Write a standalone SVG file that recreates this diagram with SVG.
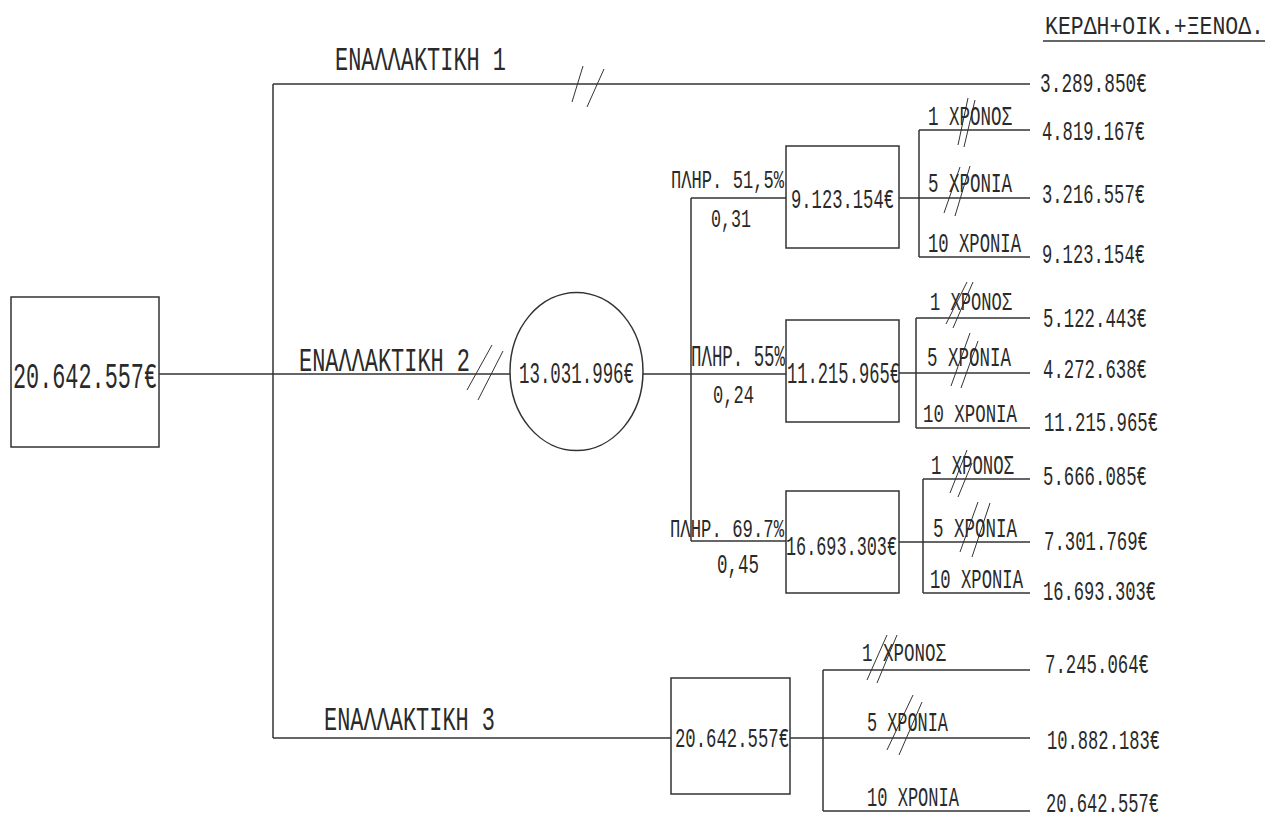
<svg xmlns="http://www.w3.org/2000/svg" width="1281" height="814" viewBox="0 0 1281 814">
<style>
text{font-family:"Liberation Mono","DejaVu Sans Mono",monospace;fill:#2a2a2a}
.n{fill:none;stroke:#333;stroke-width:1.5}
.c line{stroke:#333;stroke-width:1.5}
.h line{stroke:#333;stroke-width:1}
</style>
<rect width="1281" height="814" fill="#fff"/>
<g id="connectors" class="c">
<line x1="159" y1="374" x2="510" y2="374"/>
<line x1="273" y1="84" x2="273" y2="738"/>
<line x1="273" y1="84" x2="1030" y2="84"/>
<line x1="273" y1="738" x2="671" y2="738"/>
<line x1="643" y1="374" x2="786" y2="374"/>
<line x1="691" y1="198" x2="691" y2="541"/>
<line x1="691" y1="198" x2="786" y2="198"/>
<line x1="691" y1="541" x2="786" y2="541"/>
<line x1="899" y1="198" x2="1030" y2="198"/>
<line x1="919" y1="130" x2="919" y2="257"/>
<line x1="919" y1="130" x2="1030" y2="130"/>
<line x1="919" y1="257" x2="1030" y2="257"/>
<line x1="899" y1="373" x2="1030" y2="373"/>
<line x1="916" y1="318" x2="916" y2="428"/>
<line x1="916" y1="318" x2="1030" y2="318"/>
<line x1="916" y1="428" x2="1030" y2="428"/>
<line x1="899" y1="542" x2="1030" y2="542"/>
<line x1="923" y1="479" x2="923" y2="593"/>
<line x1="923" y1="479" x2="1030" y2="479"/>
<line x1="923" y1="593" x2="1030" y2="593"/>
<line x1="790" y1="738" x2="1030" y2="738"/>
<line x1="823" y1="670" x2="823" y2="811"/>
<line x1="823" y1="670" x2="1030" y2="670"/>
<line x1="823" y1="811" x2="1030" y2="811"/>
</g>
<g id="hashmarks" class="h">
<line x1="583" y1="66" x2="572" y2="102"/><line x1="604" y1="69" x2="587" y2="107"/>
<line x1="492" y1="345" x2="467" y2="390"/><line x1="503" y1="351" x2="478" y2="400"/>
<line x1="968" y1="98" x2="958" y2="145"/><line x1="975" y1="100" x2="964" y2="147"/>
<line x1="960" y1="167" x2="944" y2="213"/><line x1="970" y1="166" x2="955" y2="216"/>
<line x1="967" y1="282" x2="946" y2="324"/><line x1="973" y1="282" x2="953" y2="328"/>
<line x1="970" y1="333" x2="951" y2="386"/><line x1="978" y1="341" x2="961" y2="388"/>
<line x1="967" y1="450" x2="950" y2="493"/><line x1="972" y1="463" x2="958" y2="497"/>
<line x1="978" y1="502" x2="960" y2="552"/><line x1="990" y1="503" x2="972" y2="557"/>
<line x1="887" y1="635" x2="867" y2="680"/><line x1="897" y1="635" x2="877" y2="683"/>
<line x1="913" y1="695" x2="887" y2="750"/><line x1="922" y1="702" x2="899" y2="755"/>
</g>
<g id="header">
<text x="1045" y="34" font-size="25" textLength="219" lengthAdjust="spacingAndGlyphs">ΚΕΡΔΗ+ΟΙΚ.+ΞΕΝΟΔ.</text>
<line x1="1043" y1="41" x2="1265" y2="41" stroke="#333" stroke-width="1.5"/>
</g>
<g id="root">
<rect class="n" x="11" y="297" width="148" height="150"/>
<text x="13" y="388" font-size="37" textLength="144" lengthAdjust="spacingAndGlyphs">20.642.557€</text>
</g>
<g id="alt-labels">
<text x="335" y="70" font-size="33" textLength="171" lengthAdjust="spacingAndGlyphs">ΕΝΑΛΛΑΚΤΙΚΗ 1</text>
<text x="299" y="371" font-size="34" textLength="171" lengthAdjust="spacingAndGlyphs">ΕΝΑΛΛΑΚΤΙΚΗ 2</text>
<text x="324" y="730" font-size="33" textLength="171" lengthAdjust="spacingAndGlyphs">ΕΝΑΛΛΑΚΤΙΚΗ 3</text>
</g>
<g id="chance">
<ellipse class="n" cx="576.5" cy="371.5" rx="66.5" ry="79"/>
<text x="519" y="383" font-size="30" textLength="115" lengthAdjust="spacingAndGlyphs">13.031.996€</text>
</g>
<g id="prob-labels">
<text x="671" y="188" font-size="26" textLength="113" lengthAdjust="spacingAndGlyphs">ΠΛΗΡ. 51,5%</text>
<text x="711" y="227" font-size="25" textLength="40" lengthAdjust="spacingAndGlyphs">0,31</text>
<text x="691" y="366" font-size="29" textLength="94" lengthAdjust="spacingAndGlyphs">ΠΛΗΡ. 55%</text>
<text x="713" y="403" font-size="26" textLength="41" lengthAdjust="spacingAndGlyphs">0,24</text>
<text x="670" y="537" font-size="25" textLength="114" lengthAdjust="spacingAndGlyphs">ΠΛΗΡ. 69.7%</text>
<text x="717" y="573" font-size="27" textLength="42" lengthAdjust="spacingAndGlyphs">0,45</text>
</g>
<g id="box1">
<rect class="n" x="786" y="146" width="113" height="102"/>
<text x="791" y="208" font-size="27" textLength="103" lengthAdjust="spacingAndGlyphs">9.123.154€</text>
</g>
<g id="box2">
<rect class="n" x="786" y="320" width="113" height="102"/>
<text x="787" y="383" font-size="29" textLength="113" lengthAdjust="spacingAndGlyphs">11.215.965€</text>
</g>
<g id="box3">
<rect class="n" x="786" y="491" width="113" height="102"/>
<text x="786" y="555" font-size="27" textLength="111" lengthAdjust="spacingAndGlyphs">16.693.303€</text>
</g>
<g id="box4">
<rect class="n" x="671" y="678" width="119" height="116"/>
<text x="675" y="747" font-size="28" textLength="114" lengthAdjust="spacingAndGlyphs">20.642.557€</text>
</g>
<g id="year-labels">
<text x="928" y="125" font-size="27" textLength="84" lengthAdjust="spacingAndGlyphs">1 ΧΡΟΝΟΣ</text>
<text x="928" y="192" font-size="27" textLength="84" lengthAdjust="spacingAndGlyphs">5 ΧΡΟΝΙΑ</text>
<text x="928" y="252" font-size="28" textLength="93" lengthAdjust="spacingAndGlyphs">10 ΧΡΟΝΙΑ</text>
<text x="930" y="310" font-size="26" textLength="82" lengthAdjust="spacingAndGlyphs">1 ΧΡΟΝΟΣ</text>
<text x="927" y="366" font-size="27" textLength="84" lengthAdjust="spacingAndGlyphs">5 ΧΡΟΝΙΑ</text>
<text x="923" y="422" font-size="26" textLength="94" lengthAdjust="spacingAndGlyphs">10 ΧΡΟΝΙΑ</text>
<text x="931" y="474" font-size="27" textLength="83" lengthAdjust="spacingAndGlyphs">1 ΧΡΟΝΟΣ</text>
<text x="933" y="537" font-size="27" textLength="84" lengthAdjust="spacingAndGlyphs">5 ΧΡΟΝΙΑ</text>
<text x="930" y="588" font-size="27" textLength="93" lengthAdjust="spacingAndGlyphs">10 ΧΡΟΝΙΑ</text>
<text x="862" y="661" font-size="26" textLength="84" lengthAdjust="spacingAndGlyphs">1 ΧΡΟΝΟΣ</text>
<text x="867" y="731" font-size="27" textLength="81" lengthAdjust="spacingAndGlyphs">5 ΧΡΟΝΙΑ</text>
<text x="867" y="806" font-size="28" textLength="92" lengthAdjust="spacingAndGlyphs">10 ΧΡΟΝΙΑ</text>
</g>
<g id="outcomes">
<text x="1040" y="92" font-size="27" textLength="107" lengthAdjust="spacingAndGlyphs">3.289.850€</text>
<text x="1042" y="140" font-size="27" textLength="103" lengthAdjust="spacingAndGlyphs">4.819.167€</text>
<text x="1042" y="203" font-size="27" textLength="103" lengthAdjust="spacingAndGlyphs">3.216.557€</text>
<text x="1042" y="263" font-size="28" textLength="103" lengthAdjust="spacingAndGlyphs">9.123.154€</text>
<text x="1043" y="327" font-size="28" textLength="104" lengthAdjust="spacingAndGlyphs">5.122.443€</text>
<text x="1043" y="378" font-size="27" textLength="104" lengthAdjust="spacingAndGlyphs">4.272.638€</text>
<text x="1044" y="431" font-size="28" textLength="114" lengthAdjust="spacingAndGlyphs">11.215.965€</text>
<text x="1043" y="485" font-size="28" textLength="104" lengthAdjust="spacingAndGlyphs">5.666.085€</text>
<text x="1044" y="550" font-size="28" textLength="104" lengthAdjust="spacingAndGlyphs">7.301.769€</text>
<text x="1043" y="600" font-size="28" textLength="113" lengthAdjust="spacingAndGlyphs">16.693.303€</text>
<text x="1045" y="673" font-size="28" textLength="104" lengthAdjust="spacingAndGlyphs">7.245.064€</text>
<text x="1047" y="749" font-size="28" textLength="113" lengthAdjust="spacingAndGlyphs">10.882.183€</text>
<text x="1046" y="812" font-size="28" textLength="113" lengthAdjust="spacingAndGlyphs">20.642.557€</text>
</g>
</svg>
